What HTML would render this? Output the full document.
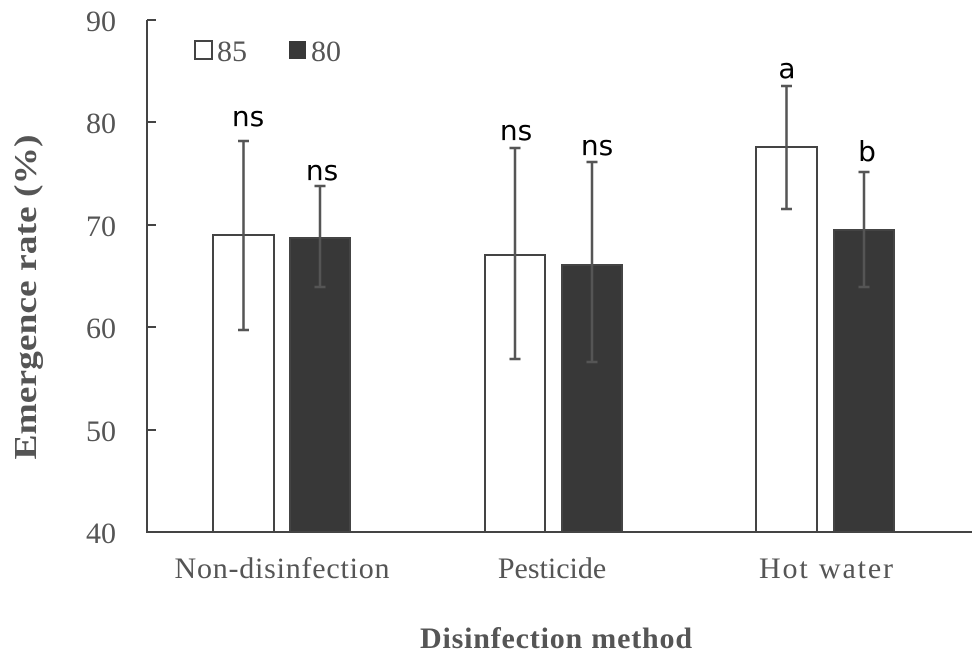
<!DOCTYPE html><html><head><style>body{margin:0;background:#fff}</style></head><body>
<svg width="974" height="660" xmlns="http://www.w3.org/2000/svg" font-family="Liberation Serif, serif">
<g stroke="#444" stroke-width="2" fill="none">
<line x1="147" y1="20" x2="147" y2="532"/><line x1="146" y1="532" x2="972" y2="532"/>
<line x1="147" y1="20" x2="156" y2="20"/><line x1="147" y1="122" x2="156" y2="122"/><line x1="147" y1="225" x2="156" y2="225"/><line x1="147" y1="327" x2="156" y2="327"/><line x1="147" y1="430" x2="156" y2="430"/>
</g>
<g fill="#555" font-size="30" text-anchor="end">
<text x="116" y="31">90</text><text x="116" y="133">80</text><text x="116" y="236">70</text><text x="116" y="338">60</text><text x="116" y="441">50</text><text x="116" y="543">40</text>
</g>
<g stroke="#444" stroke-width="2">
<rect x="213" y="235" width="61" height="297" fill="#fff"/>
<rect x="290" y="238" width="60" height="294" fill="#383838"/>
<rect x="485" y="255" width="60" height="277" fill="#fff"/>
<rect x="562" y="265" width="60" height="267" fill="#383838"/>
<rect x="756" y="147" width="61" height="385" fill="#fff"/>
<rect x="834" y="230" width="60" height="302" fill="#383838"/>
</g>
<g stroke="#555" stroke-width="2.5">
<path d="M243.5 141V330M238 141H249M238 330H249"/>
<path d="M320 186V287M314.5 186H325.5M314.5 287H325.5"/>
<path d="M515 148V359M509.5 148H520.5M509.5 359H520.5"/>
<path d="M592 162V362M586.5 162H597.5M586.5 362H597.5"/>
<path d="M786.5 86V209M781 86H792M781 209H792"/>
<path d="M864 172V287M858.5 172H869.5M858.5 287H869.5"/>
</g>
<g font-family="DejaVu Sans, sans-serif" font-size="28" fill="#000" text-anchor="middle">
<text x="248" y="126">ns</text><text x="322" y="180">ns</text><text x="516" y="140">ns</text><text x="597" y="155">ns</text><text x="787" y="78">a</text><text x="867" y="161">b</text>
</g>
<rect x="195" y="41" width="17" height="18" fill="#fff" stroke="#444" stroke-width="2"/>
<rect x="289" y="41" width="17" height="18" fill="#383838"/>
<g fill="#555" font-size="30"><text x="217" y="61">85</text><text x="311" y="61">80</text></g>
<g fill="#555" font-size="30" text-anchor="middle">
<text x="282" y="578" textLength="215">Non-disinfection</text><text x="552" y="578">Pesticide</text><text x="826" y="578" textLength="134">Hot water</text>
</g>
<text x="556" y="648" fill="#555" font-size="30" font-weight="bold" text-anchor="middle" textLength="272">Disinfection method</text>
<text transform="translate(36 297) rotate(-90)" fill="#555" font-size="32" font-weight="bold" text-anchor="middle" textLength="325" lengthAdjust="spacingAndGlyphs">Emergence rate (%)</text>
</svg></body></html>
